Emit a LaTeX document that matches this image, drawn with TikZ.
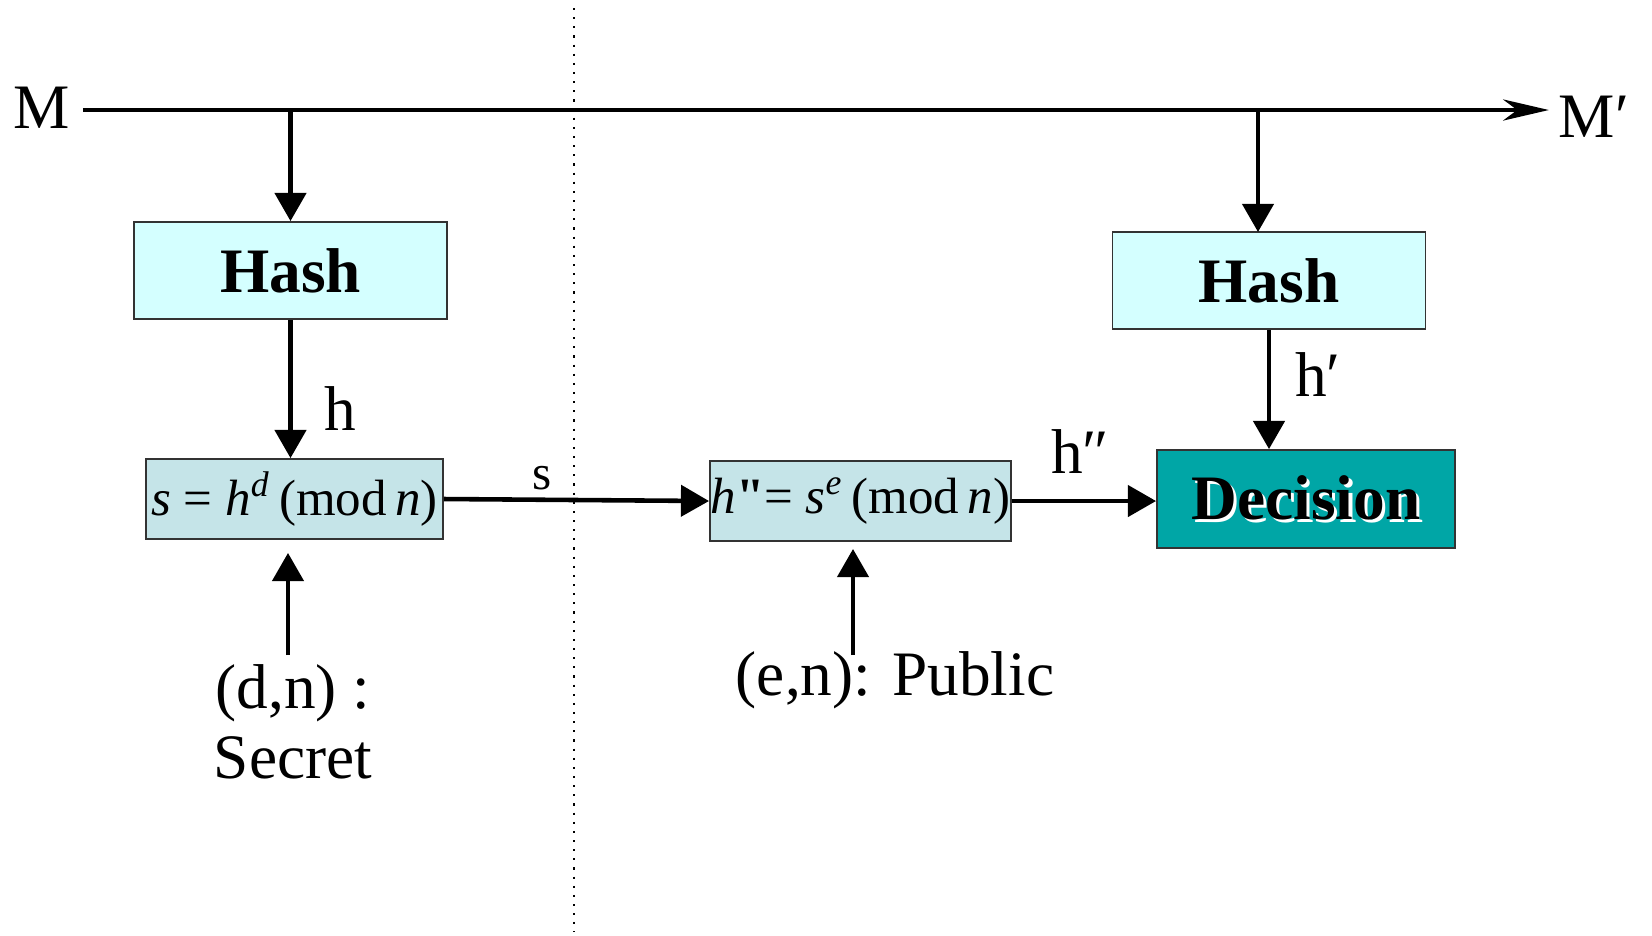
\documentclass[tikz,border=0pt]{standalone}
\usepackage{fontspec}
\setmainfont{Liberation Serif}
\newfontfamily\rawserif{Liberation Serif}
\usetikzlibrary{arrows.meta,positioning}

\definecolor{hashfill}{RGB}{212,255,255}
\definecolor{modfill}{RGB}{197,228,232}
\definecolor{decfill}{RGB}{0,166,166}
\newcommand{\whiteshadow}[1]{\leavevmode\rlap{\kern0.9pt\raisebox{-0.9pt}{\color{white}#1}}#1}

\begin{document}
\begin{tikzpicture}[
    x=0.01cm, y=-0.01cm,
    >={Triangle[length=8pt,width=8.8pt]},
    flow/.style={->, line width=1.3pt},
    box/.style={rectangle, draw=black!80, line width=0.5pt, inner sep=0pt},
    hashbox/.style={box, fill=hashfill, minimum width=3.13cm, minimum height=0.97cm, font=\fontsize{18}{20}\selectfont\bfseries},
    modbox/.style={box, fill=modfill, minimum height=0.80cm, font=\fontsize{14.5}{16}\selectfont},
    lbl/.style={inner sep=0pt, font=\fontsize{18}{20}\selectfont},
]
\useasboundingbox (0,0) rectangle (1652,935);

% sender | receiver
\draw[dotted, line width=0.6pt] (574,8) -- (574,932);

\node[lbl, anchor=base] (m) at (42,128) {M};
\node[lbl, anchor=base west] (mp) at (1558,137) {M′};
\coordinate (mline) at (0,110);

\node[hashbox] (hash1) at (290.5,270.5) {Hash};
\node[hashbox] (hash2) at (1269,280.5) {Hash};
\coordinate (tap2) at (1258,232);

\node[modbox, minimum width=2.97cm] (sig) at (294.5,499) {\textit{s} = \textit{h}\textsuperscript{\textit{d}}\,(mod\,\textit{n})};
\node[modbox, minimum width=3.01cm] (ver) at (860.5,501) {\textit{h}{\rawserif\bfseries\symbol{34}}= \textit{s}\textsuperscript{\textit{e}}\,(mod\,\textit{n})};
\node[box, fill=decfill, minimum width=2.98cm, minimum height=0.98cm, font=\fontsize{18}{20}\selectfont\bfseries] (dec) at (1306,499) {\whiteshadow{Decision}};

\node[lbl, align=center, font=\fontsize{18}{19.9}\selectfont] (secret) at (293,722) {(d,n)~:\\Secret};
\coordinate (key1) at (288,655);
\node[lbl] (pub) at (895,680) {(e,n): Public};
\coordinate (key2) at (853,655);

\node[lbl] (hlbl) at (340,409) {h};
\node[lbl, font=\fontsize{14}{16}\selectfont] (slbl) at (542,478) {s};
\node[lbl] (hpp) at (1080,452) {h″};
\node[lbl] (hp) at (1318,375) {h′};

\draw[line width=1.3pt, -{Stealth[length=13pt,width=6pt,inset=4pt]}, shorten <=3.4pt, shorten >=2.6pt]
    (m.east |- mline) -- (mp.west |- mline);
\draw[flow] (hash1.north |- mline) -- (hash1.north);
\draw[flow] (tap2 |- mline) -- (tap2);
\draw[flow] (hash1.south) -- (hash1.south |- sig.north);
\draw[flow] (sig.east) -- (ver.west);
\draw[flow] (ver.east) -- (ver.east -| dec.west);
\draw[flow] (hash2.south) -- (hash2.south |- dec.north);
\draw[flow, shorten >=3.7pt] (key1) -- (key1 |- sig.south);
\draw[flow, shorten >=2pt] (key2) -- (key2 |- ver.south);
\end{tikzpicture}
\end{document}
